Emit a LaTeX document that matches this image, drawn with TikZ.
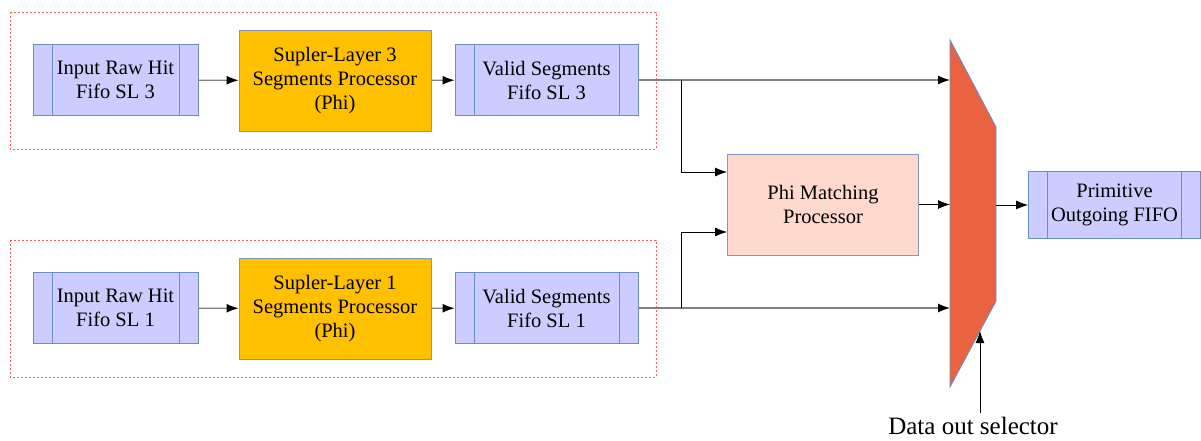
\documentclass[tikz,border=0pt]{standalone}
\usepackage{fontspec}
\setmainfont{Liberation Serif}
\usetikzlibrary{arrows.meta,calc}
\definecolor{fifofill}{RGB}{204,204,255}
\definecolor{blueline}{RGB}{108,142,191}
\definecolor{procfill}{RGB}{255,192,0}
\definecolor{procline}{RGB}{130,150,190}
\definecolor{phifill}{RGB}{255,216,206}
\definecolor{philine}{RGB}{130,150,200}
\definecolor{muxfill}{RGB}{234,99,65}
\definecolor{linegray}{RGB}{128,128,128}
\definecolor{dashred}{RGB}{255,90,90}
\begin{document}
\begin{tikzpicture}[x=1pt,y=-1pt,
  txt/.style={font=\fontsize{20.5}{24}\selectfont, align=center, inner sep=0pt},
  fifobox/.style={txt, draw=blueline, fill=fifofill, line width=0.9pt,
    path picture={\draw[blueline,line width=0.9pt]
      ([xshift=19pt]path picture bounding box.north west) -- ([xshift=19pt]path picture bounding box.south west)
      ([xshift=-19pt]path picture bounding box.north east) -- ([xshift=-19pt]path picture bounding box.south east);}},
  procbox/.style={txt, draw=procline, fill=procfill, line width=0.9pt, minimum width=192pt, minimum height=101pt},
  phibox/.style={txt, draw=philine, fill=phifill, line width=0.9pt, minimum width=191pt, minimum height=101pt},
  group/.style={draw=dashred, line width=0.8pt, dash pattern=on 2pt off 2pt},
  arr/.style={draw=linegray, line width=1.2pt, -{Latex[length=12pt,width=9pt,color=black]}},
  branch/.style={draw=black, line width=0.8pt, -{Latex[length=12pt,width=9pt,color=black]}}
]
\useasboundingbox (0,0) rectangle (1201,441);

% groups
\draw[group] (10,12) rectangle (656,149);
\draw[group] (10,240) rectangle (656,377);

% top row
\node[fifobox, minimum width=165pt, minimum height=71pt] (in3) at (115.5,80) {Input Raw Hit\\Fifo SL 3};
\node[procbox] (proc3) at (335,80.5) {Supler-Layer 3\\Segments Processor\\(Phi)};
\node[fifobox, minimum width=183pt, minimum height=71pt] (val3) at (546.5,80) {Valid Segments\\Fifo SL 3};

% bottom row
\node[fifobox, minimum width=165pt, minimum height=71pt] (in1) at (115.5,308) {Input Raw Hit\\Fifo SL 1};
\node[procbox] (proc1) at (335,308.5) {Supler-Layer 1\\Segments Processor\\(Phi)};
\node[fifobox, minimum width=183pt, minimum height=71pt] (val1) at (546.5,308) {Valid Segments\\Fifo SL 1};

% phi matching
\node[phibox] (phi) at (823,204.5) {Phi Matching\\Processor};

% output fifo
\node[fifobox, minimum width=172pt, minimum height=67pt] (out) at (1114.5,205) {Primitive\\Outgoing FIFO};

% mux
\coordinate (muxtop) at (950,40);
\coordinate (muxr) at (996,127);
\coordinate (muxsel) at (980,331);
\draw[draw=blueline, fill=muxfill, line width=0.9pt] (950,40) -- (996,127) -- (996,301) -- (950,387) -- cycle;

% selector label
\node[font=\fontsize{25}{28}\selectfont, inner sep=0pt, anchor=base] (sel) at (973,434) {Data out selector};

% connectors
\draw[arr] (in3) -- (proc3);
\draw[arr] (proc3) -- (val3);
\draw[arr] (in1) -- (proc1);
\draw[arr] (proc1) -- (val1);

\coordinate (j3) at (681,80);
\coordinate (j1) at (681,308);
\draw[arr] (val3.east) -- (val3.east -| muxtop);
\draw[arr] (val1.east) -- (val1.east -| muxtop);
\draw[branch] (j3) |- ([yshift=32.5pt]phi.west);
\draw[branch] (j1) |- ([yshift=-27.5pt]phi.west);
\draw[branch] (phi.east) -- (phi.east -| muxtop);
\draw[branch] (out.west -| muxr) -- (out.west);
\draw[branch] (muxsel |- 0,413) -- (muxsel);
\end{tikzpicture}
\end{document}
